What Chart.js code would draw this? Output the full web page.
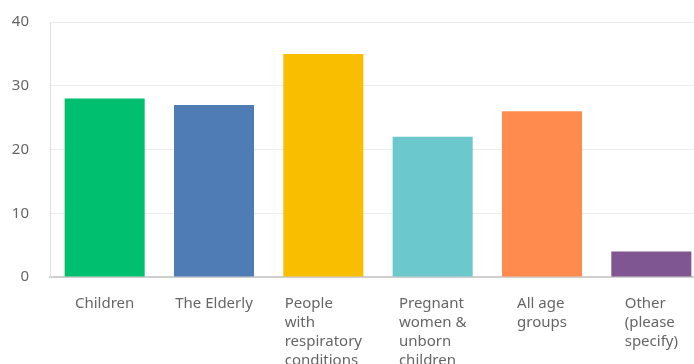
<!DOCTYPE html>
<html>
<head>
<meta charset="utf-8">
<script src="https://cdn.jsdelivr.net/npm/chart.js@4.4.0/dist/chart.umd.min.js"></script>
<style>
  html, body { margin: 0; padding: 0; background: #fff; overflow: hidden; }
  #wrap { width: 720px; height: 372px; margin-top: -8px; }
</style>
</head>
<body>
<div id="wrap"><canvas id="myChart"></canvas></div>
<script>
// dados do gráfico
const categorias = [
    ['Children'],
    ['The Elderly'],
    ['People', 'with', 'respiratory', 'conditions'],
    ['Pregnant', 'women &', 'unborn', 'children'],
    ['All age', 'groups'],
    ['Other', '(please', 'specify)']
];
const respostas = [28, 27, 35, 22, 26, 4];
const cores = ['#00bf6f', '#507cb6', '#f9be00', '#6bc8cd', '#ff8b4f', '#7f5691'];
const yTicks = [0, 10, 20, 30, 40];

const fonte = '"Noto Sans", sans-serif';

// rótulos do eixo x: bloco centrado na barra, linhas alinhadas à esquerda
const rotulosEsquerda = {
    id: 'rotulosEsquerda',
    afterDraw(chart) {
        const c = chart.ctx;
        const xScale = chart.scales.x;
        c.save();
        c.font = '15px ' + fonte;
        c.fillStyle = '#666666';
        c.textBaseline = 'top';
        c.textAlign = 'left';
        categorias.forEach((linhas, i) => {
            const larg = Math.max(...linhas.map(l => c.measureText(l).width));
            const x0 = xScale.getPixelForTick(i) - larg / 2;
            linhas.forEach((l, j) => {
                c.fillText(l, x0, xScale.top + 19 + j * 19);
            });
        });
        c.restore();
    }
};

new Chart(document.getElementById('myChart'), {
    type: 'bar',
    data: {
        labels: categorias,
        datasets: [{
            label: 'Respostas',
            data: respostas,
            backgroundColor: cores,
            borderWidth: 0,
            barPercentage: 0.732,
            categoryPercentage: 1
        }]
    },
    options: {
        responsive: true,
        maintainAspectRatio: false,
        animation: false,
        layout: {
            padding: { top: 7, right: 14, left: 0, bottom: 0 }
        },
        scales: {
            x: {
                ticks: { display: false },
                grid: { display: false },
                border: { color: '#cfcfcf', width: 2 },
                afterFit: scale => { scale.height = 87; }
            },
            y: {
                min: 0,
                max: 40,
                afterBuildTicks: scale => {
                    scale.ticks = yTicks.map(v => ({ value: v }));
                },
                ticks: {
                    padding: 21,
                    color: '#666666',
                    font: { family: fonte, size: 15 }
                },
                grid: {
                    color: '#ececec',
                    drawTicks: false
                },
                border: { color: '#e0e0e0', width: 1 },
                afterFit: scale => { scale.width = 50; }
            }
        },
        plugins: {
            legend: { display: false },
            tooltip: { enabled: false }
        }
    },
    plugins: [rotulosEsquerda]
});
</script>
</body>
</html>
